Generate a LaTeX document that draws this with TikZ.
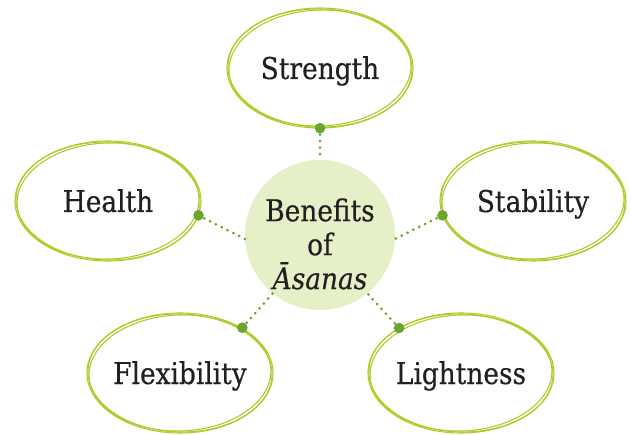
\documentclass[tikz,border=0pt]{standalone}
\usepackage{fontspec}
\setmainfont{DejaVu Serif}[FakeStretch=0.88,FakeBold=0.4]
\usetikzlibrary{shapes.geometric}
\definecolor{ring}{RGB}{172,206,44}
\definecolor{dotg}{RGB}{108,164,48}
\definecolor{hub}{RGB}{229,239,200}
\definecolor{txt}{RGB}{35,31,32}
\begin{document}
\begin{tikzpicture}[x=1pt,y=-1pt,
  leaf/.style={ellipse,minimum width=186pt,minimum height=120pt,inner sep=0pt,
    font=\fontsize{30}{34}\selectfont,text=txt,text height=22pt,text depth=0pt},
  hubnode/.style={circle,fill=hub,minimum size=150pt,inner sep=0pt},
  hubtext/.style={font=\fontsize{30}{34}\selectfont,text=txt,align=center,inner sep=0pt},
  ringline/.style={draw=ring,line width=1.1pt},
  link/.style={draw=dotg,line width=3pt,line cap=round,dash pattern=on 0pt off 6.5pt},
  knob/.style={fill=dotg}]
\useasboundingbox (0,0) rectangle (631,435);

\node[hubnode] (c) at (320,235) {};
\node[hubtext] (ct) at (320,244) {Benefits\\of\\\textit{Āsanas}};

\node[leaf] (s) at (320,68) {Strength};
\node[leaf] (h) at (108,201) {Health};
\node[leaf] (b) at (533,201) {Stability};
\node[leaf] (f) at (180,373) {Flexibility};
\node[leaf] (l) at (461,373) {Lightness};

\foreach \n in {s,h,b,f,l}{
  \draw[ringline] (\n.center) ellipse [x radius=93,y radius=60];
  \draw[ringline,rotate around={2:(\n.center)}] (\n.center) ellipse [x radius=91,y radius=58];
  \draw[ringline,rotate around={-1.5:(\n.center)}] (\n.center) ellipse [x radius=92,y radius=59];
}

\draw[link] (s.south) -- (c.north);
\draw[link] (h.-9) -- (c.-177);
\draw[link] (b.-171) -- (c.-3);
\draw[link] (f.36) -- (c.-129);
\draw[link] (l.144) -- (c.-51);

\fill[knob] (s.south) circle (5.3);
\fill[knob] (h.-9) circle (5.3);
\fill[knob] (b.-171) circle (5.3);
\fill[knob] (f.36) circle (5.3);
\fill[knob] (l.144) circle (5.3);
\end{tikzpicture}
\end{document}
